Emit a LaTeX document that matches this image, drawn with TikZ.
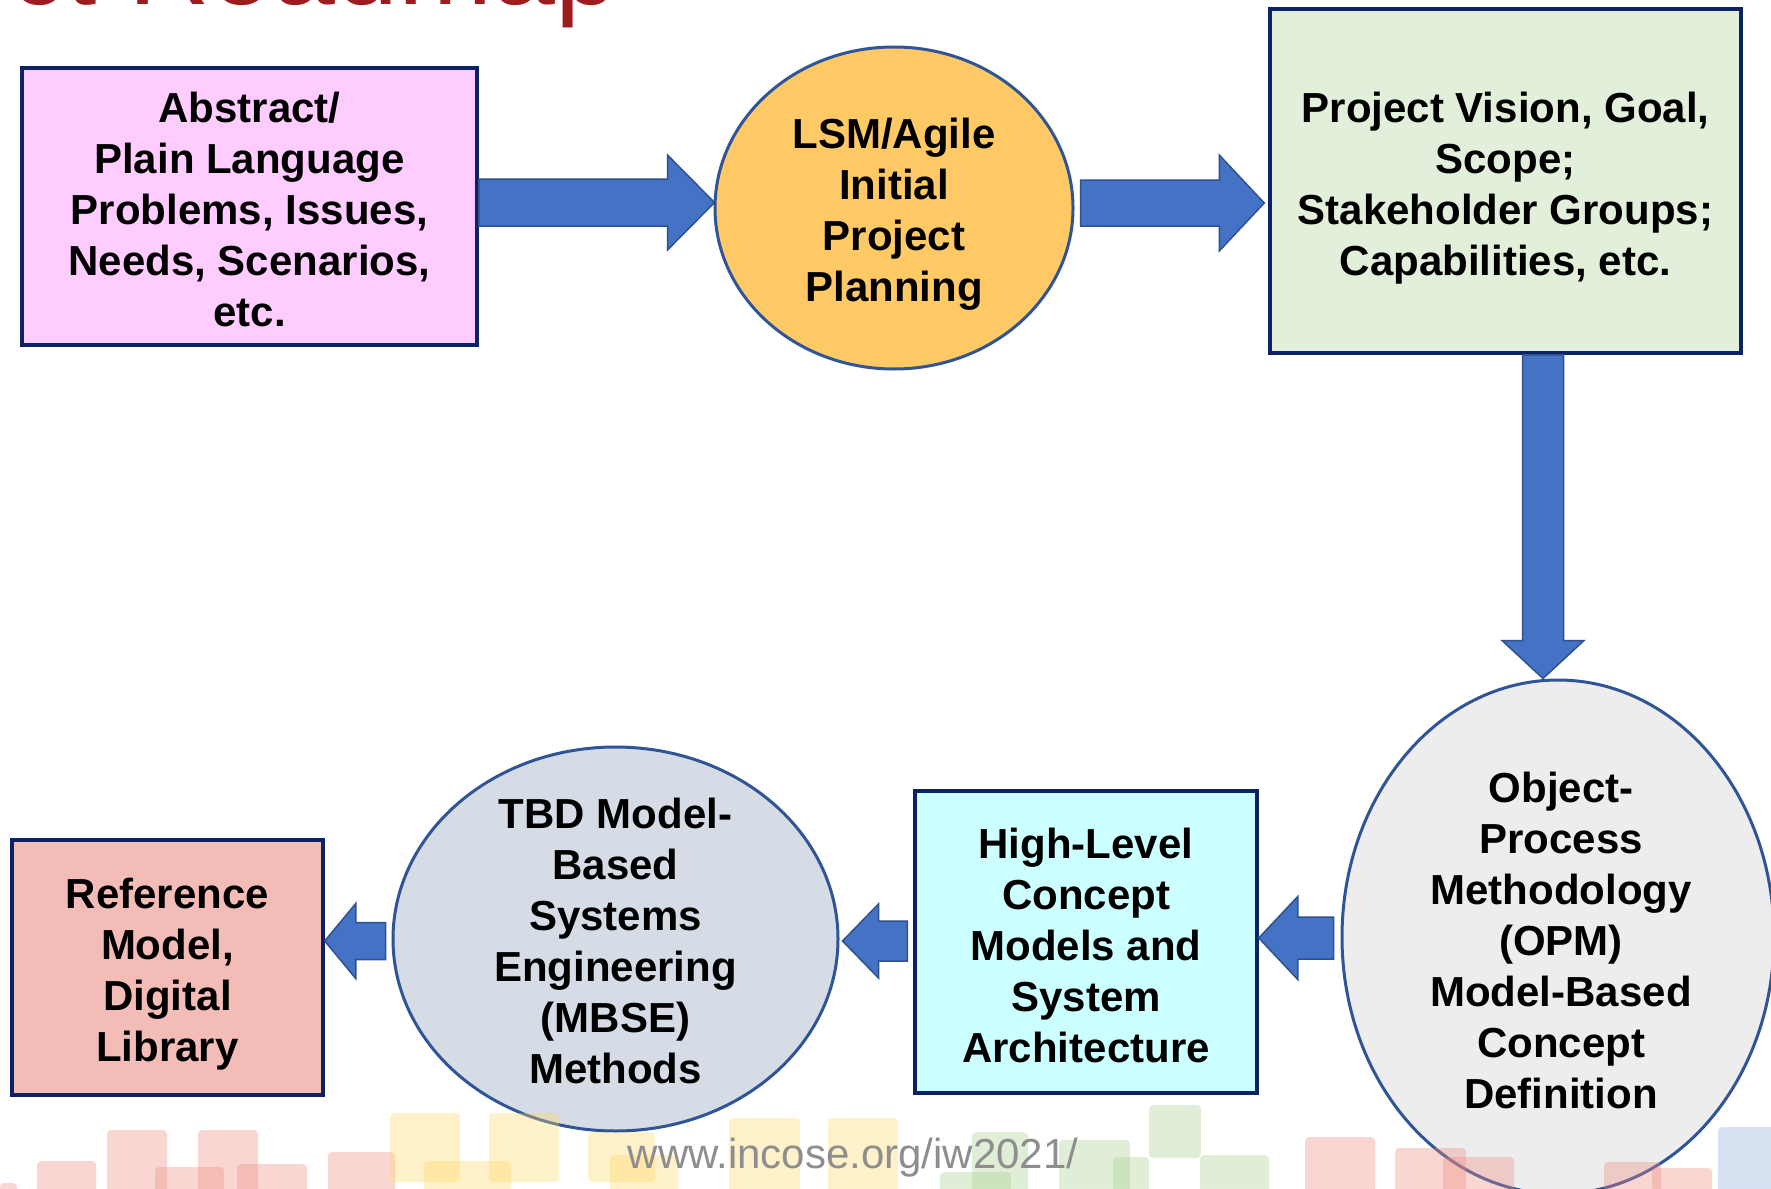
\documentclass[tikz,border=0pt]{standalone}
\usepackage{fontspec}
\setmainfont{Liberation Sans}
\usetikzlibrary{shapes.geometric,calc}

\definecolor{boxnavy}{HTML}{0B2265}
\definecolor{ellblue}{HTML}{2F5597}
\definecolor{arrfill}{HTML}{4472C4}
\definecolor{arrline}{HTML}{2F528F}
\definecolor{fpink}{HTML}{FFCCFF}
\definecolor{forange}{HTML}{FFCA66}
\definecolor{fgreen}{HTML}{E2EFDA}
\definecolor{fcyan}{HTML}{CCFFFF}
\definecolor{fsalmon}{HTML}{F4BCB7}
\definecolor{fslate}{HTML}{D6DCE5}
\definecolor{fgrey}{HTML}{EDEDED}
\definecolor{titlered}{HTML}{9E1B20}
\definecolor{urlgrey}{HTML}{8E8E8E}
\definecolor{dpink}{HTML}{F08A80}
\definecolor{dyellow}{HTML}{FFD966}
\definecolor{dgreen}{HTML}{A9D18E}
\definecolor{dblue}{HTML}{8FAADC}

\tikzset{
  boxshape/.style={draw=boxnavy, line width=3.5pt, rectangle, inner sep=0pt},
  ellshape/.style={draw=ellblue, line width=3pt, ellipse, inner sep=0pt},
  nodetext/.style={font=\bfseries\fontsize{42}{51}\selectfont, align=center, inner sep=0pt},
  arrowbody/.style={fill=arrfill, draw=arrline, line width=1.5pt, line join=miter},
  tile/.style={rounded corners=4pt, fill opacity=0.35},
}

% block arrow: start, tip, shaft half width, head half width, head length
\newcommand\blockarrow[5]{%
  \path (#2) coordinate (ba-t) (#1) coordinate (ba-s)
        ($(ba-t)!#5!(ba-s)$) coordinate (ba-h);
  \draw[arrowbody] ($(ba-s)!#3!90:(ba-t)$) -- ($(ba-h)!#3!90:(ba-t)$)
     -- ($(ba-h)!#4!90:(ba-t)$) -- (ba-t) -- ($(ba-h)!#4!-90:(ba-t)$)
     -- ($(ba-h)!#3!-90:(ba-t)$) -- ($(ba-s)!#3!-90:(ba-t)$) -- cycle;
}

\begin{document}
\begin{tikzpicture}[x=1pt,y=-1pt]
\useasboundingbox (0,0) rectangle (1771,1188);
\clip (0,0) rectangle (1771,1188);
\fill[white] (0,0) rectangle (1771,1188);

% slide title, mostly above the visible area
\node[anchor=base west, inner sep=0pt, text=titlered,
      font=\fontsize{113}{120}\selectfont] (title) at (9,5) {ct Roadmap};

% boxes and ellipses
\node[boxshape, fill=fpink, minimum width=455pt, minimum height=277pt] (abs) at (249.5,206.5) {};
\node[ellshape, fill=forange, minimum width=358pt, minimum height=322pt] (lsm) at (894,208) {};
\node[boxshape, fill=fgreen, minimum width=471pt, minimum height=344pt] (vis) at (1505.5,181) {};
\node[ellshape, fill=fgrey, minimum width=432pt, minimum height=514pt] (opm) at (1558,937) {};
\node[boxshape, fill=fcyan, minimum width=342pt, minimum height=302pt] (hlc) at (1086,942) {};
\node[ellshape, fill=fslate, minimum width=445pt, minimum height=384pt] (tbd) at (615.5,939) {};
\node[boxshape, fill=fsalmon, minimum width=311pt, minimum height=255pt] (ref) at (167.5,967.5) {};

% texts
\node[nodetext] (absT) at ($(abs.center)+(0,3)$) {Abstract/\\Plain Language\\Problems, Issues,\\Needs, Scenarios,\\etc.};
\node[nodetext] (lsmT) at ($(lsm.center)+(0,6)$) {LSM/Agile\\Initial\\Project\\Planning};
\node[nodetext] (visT) at ($(vis.center)+(0,7)$) {Project Vision, Goal,\\Scope;\\Stakeholder Groups;\\Capabilities, etc.};
\node[nodetext] (opmT) at ($(opm.center)+(3,3)$) {Object-\\Process\\Methodology\\(OPM)\\Model-Based\\Concept\\Definition};
\node[nodetext] (hlcT) at ($(hlc.center)+(0,3)$) {High-Level\\Concept\\Models and\\System\\Architecture};
\node[nodetext] (tbdT) at ($(tbd.center)+(0,2)$) {TBD Model-\\Based\\Systems\\Engineering\\(MBSE)\\Methods};
\node[nodetext] (refT) at ($(ref.center)+(0,7)$) {Reference\\Model,\\Digital\\Library};

% block arrows between the steps
\coordinate (a1s) at ($(abs.east)+(0,-4)$);
\coordinate (a1t) at ($(a1s -| lsm.west)+(1,0)$);
\blockarrow{a1s}{a1t}{23.5pt}{47.5pt}{47pt}

\coordinate (a2s) at ($(lsm.east)+(6,-5)$);
\coordinate (a2t) at ($(a2s -| vis.west)+(-4,0)$);
\blockarrow{a2s}{a2t}{23pt}{48pt}{45pt}

\coordinate (a3s) at ($(vis.south)+(37.5,0)$);
\coordinate (a3t) at (a3s |- opm.north);
\blockarrow{a3s}{a3t}{20.5pt}{41pt}{38pt}

\coordinate (a4s) at ($(opm.west)+(-7,1)$);
\coordinate (a4t) at (a4s -| hlc.east);
\blockarrow{a4s}{a4t}{21pt}{41.5pt}{39pt}

\coordinate (a5s) at ($(hlc.west)+(-6,-1)$);
\coordinate (a5t) at ($(a5s -| tbd.east)+(3,0)$);
\blockarrow{a5s}{a5t}{20pt}{37pt}{36pt}

\coordinate (a6s) at ($(tbd.west)+(-6,2)$);
\coordinate (a6t) at (a6s -| ref.east);
\blockarrow{a6s}{a6t}{18.5pt}{37.5pt}{31pt}

% faint coloured tiles of the slide footer
\foreach \xa/\ya/\xb/\yb in {0/1183/17/1195, 37/1161/96/1195, 107/1130/167/1195,
    155/1167/224/1195, 198/1130/258/1195, 237/1164/307/1195, 328/1152/395/1195,
    1305/1137/1375/1195, 1395/1148/1466/1195, 1443/1157/1514/1195,
    1604/1162/1661/1195, 1652/1168/1712/1195}
  \fill[tile, dpink] (\xa,\ya) rectangle (\xb,\yb);
\foreach \xa/\ya/\xb/\yb in {390/1113/460/1182, 424/1161/511/1195, 489/1113/559/1182,
    588/1132/655/1182, 610/1155/678/1195, 729/1118/800/1195, 828/1118/898/1195}
  \fill[tile, dyellow] (\xa,\ya) rectangle (\xb,\yb);
\foreach \xa/\ya/\xb/\yb in {972/1132/1028/1195, 940/1172/1011/1195, 1059/1140/1130/1195,
    1113/1157/1149/1195, 1149/1105/1201/1158, 1200/1155/1269/1195}
  \fill[tile, dgreen] (\xa,\ya) rectangle (\xb,\yb);
\fill[tile, dblue] (1718,1127) rectangle (1775,1195);

% footer address
\node[inner sep=0pt, text=urlgrey, font=\fontsize{42}{48}\selectfont] (url) at (853,1158) {www.incose.org/iw2021/};
\end{tikzpicture}
\end{document}
